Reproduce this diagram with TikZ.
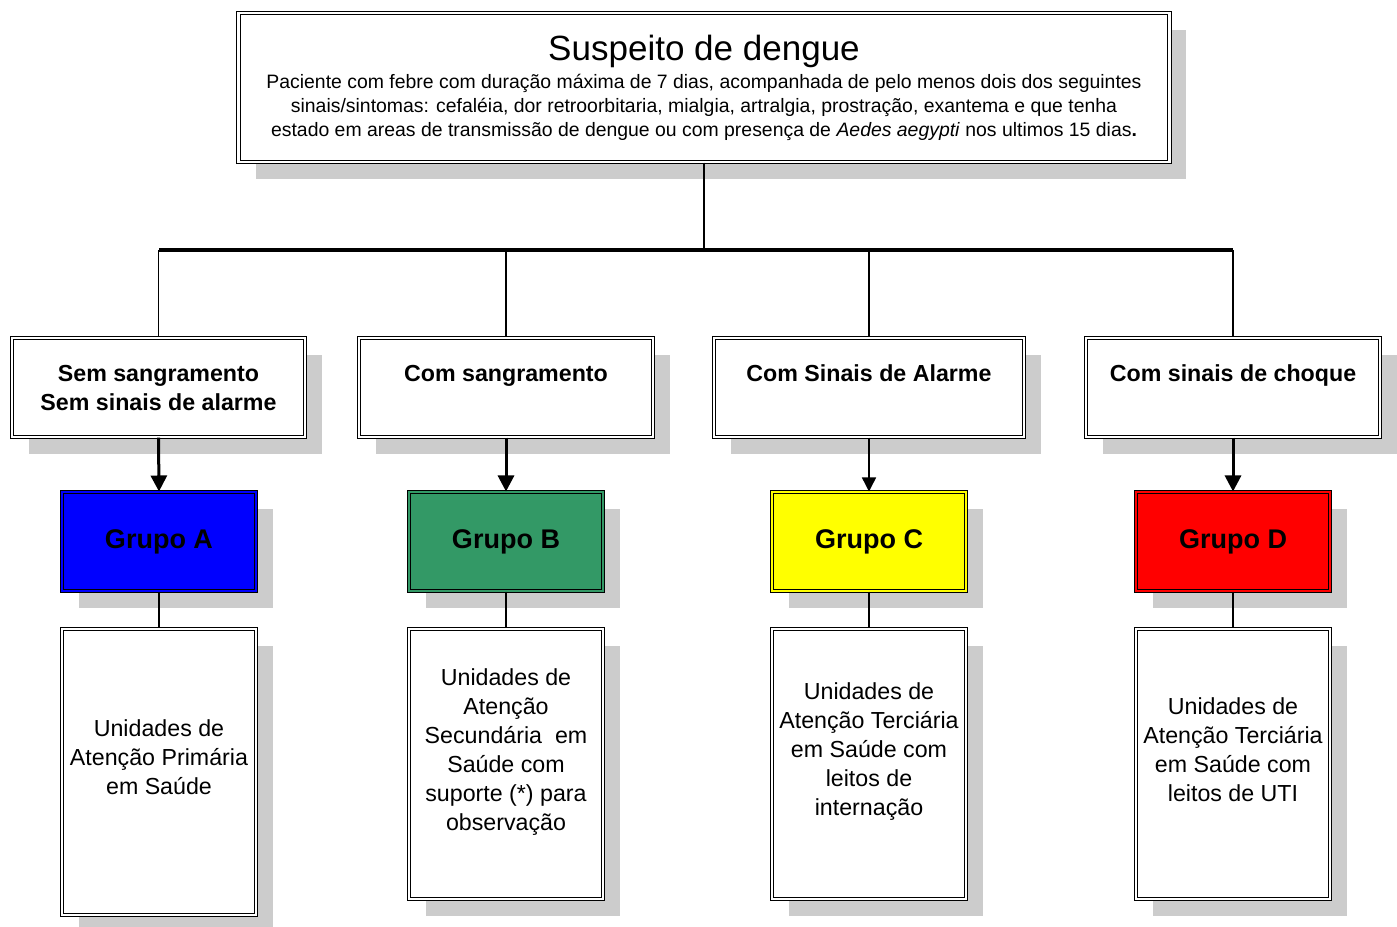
\documentclass[tikz,border=0pt]{standalone}
\usepackage{fontspec}
\setmainfont{Liberation Sans}
\usetikzlibrary{arrows.meta,shadows}

\definecolor{azulA}{RGB}{0,0,255}
\definecolor{verdeB}{RGB}{51,153,102}
\definecolor{amareloC}{RGB}{255,255,0}
\definecolor{vermelhoD}{RGB}{255,0,0}

\newcommand{\titulo}{\fontsize{9.96pt}{11pt}\selectfont}
\newcommand{\corpo}{\fontsize{5.52pt}{6.83pt}\selectfont}
\newcommand{\rotulo}{\fontsize{6.6pt}{8.25pt}\selectfont\bfseries}
\newcommand{\grupofonte}{\fontsize{7.68pt}{9pt}\selectfont\bfseries}
\newcommand{\unidfonte}{\fontsize{6.6pt}{8.25pt}\selectfont}

\tikzset{
	caixa/.style={draw=black, line width=0.1mm, double=white, double distance=0.25mm,
		fill=white, inner sep=0pt, align=center,
		drop shadow={shadow xshift=0.17cm, shadow yshift=-0.17cm, fill=black!20, opacity=1}},
	grupo/.style={caixa, minimum width=1.94cm, minimum height=0.99cm, font=\grupofonte},
	unidade/.style={caixa, minimum width=1.94cm, minimum height=2.70cm, font=\unidfonte},
	linha/.style={line width=0.15mm},
	seta/.style={line width=0.3mm, -{Triangle[length=0.16cm, width=0.16cm]}},
	setafina/.style={line width=0.15mm, -{Triangle[length=0.14cm, width=0.14cm]}}
}

\begin{document}
\begin{tikzpicture}[x=0.01cm, y=-0.01cm]
	%%%%% START %%%%%
	\useasboundingbox (0,0) rectangle (1397,926);
	
	\node[caixa, minimum width=9.30cm, minimum height=1.49cm, font=\corpo] (suspeito) at (704,87.5)
		{{\titulo Suspeito de dengue}\\[1.1pt]
		Paciente com febre com duração máxima de 7 dias, acompanhada de pelo menos dois dos seguintes\\
		sinais/sintomas: cefaléia, dor retroorbitaria, mialgia, artralgia, prostração, exantema e que tenha\\
		estado em areas de transmissão de dengue ou com presença de \textit{Aedes aegypti} nos ultimos 15 dias\textbf{.}};
	
	\node[caixa, minimum width=2.93cm, minimum height=0.99cm, font=\rotulo] (semsang) at (158.5,387.5) {Sem sangramento\\Sem sinais de alarme};
	\node[caixa, minimum width=2.94cm, minimum height=0.99cm, font=\rotulo] (comsang) at (506,387.5) {Com sangramento\\\mbox{}};
	\node[caixa, minimum width=3.10cm, minimum height=0.99cm, font=\rotulo] (alarme) at (869,387.5) {Com Sinais de Alarme\\\mbox{}};
	\node[caixa, minimum width=2.94cm, minimum height=0.99cm, font=\rotulo] (choque) at (1233,387.5) {Com sinais de choque\\\mbox{}};
	
	\node[grupo, fill=azulA, double=azulA] (grupoA) at (159,541.5) {Grupo A};
	\node[grupo, fill=verdeB, double=verdeB] (grupoB) at (506,541.5) {Grupo B};
	\node[grupo, fill=amareloC, double=amareloC] (grupoC) at (869,541.5) {Grupo C};
	\node[grupo, fill=vermelhoD, double=vermelhoD] (grupoD) at (1233,541.5) {Grupo D};
	
	\node[unidade, minimum height=2.86cm] (unidA) at (159,772) {Unidades de\\Atenção Primária\\em Saúde\\\mbox{}};
	\node[unidade] (unidB) at (506,764) {Unidades de\\Atenção\\Secundária~ em\\Saúde com\\suporte (*) para\\observação\\\mbox{}};
	\node[unidade] (unidC) at (869,764) {Unidades de\\Atenção Terciária\\em Saúde com\\leitos de\\internação\\\mbox{}};
	\node[unidade] (unidD) at (1233,764) {Unidades de\\Atenção Terciária\\em Saúde com\\leitos de UTI\\\mbox{}};
	
	% barra de ligacao
	\coordinate (barra) at (704,250);
	\coordinate (barraE) at (159,250);
	\coordinate (barraD) at (1233,250);
	\draw[linha] (suspeito.south) -- (barra);
	\draw[line width=0.35mm] (barraE) -- (barraD);
	\foreach \n in {semsang,comsang,alarme,choque}
		\draw[linha] (\n.north |- barra) -- (\n.north);
	
	\draw[seta] (semsang.south) -- (grupoA.north);
	\draw[seta] (comsang.south) -- (grupoB.north);
	\draw[setafina] (alarme.south) -- (grupoC.north);
	\draw[seta] (choque.south) -- (grupoD.north);
	
	\foreach \g/\u in {grupoA/unidA,grupoB/unidB,grupoC/unidC,grupoD/unidD}
		\draw[linha] (\g.south) -- (\u.north);
	
	%%%%% END %%%%%
\end{tikzpicture}
\end{document}
